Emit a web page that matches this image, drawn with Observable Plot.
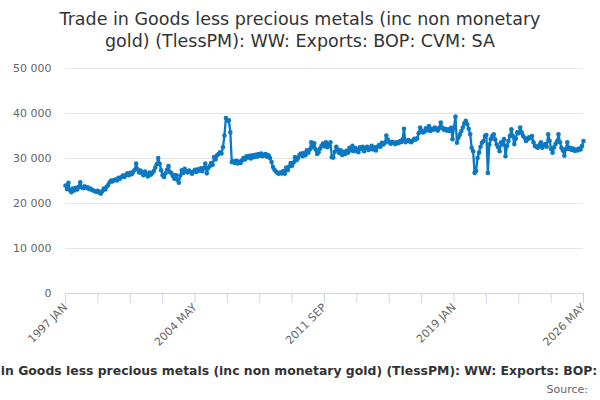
<!DOCTYPE html>
<html>
<head>
<meta charset="utf-8">
<script src="https://cdn.jsdelivr.net/npm/d3@7"></script>
<script src="https://cdn.jsdelivr.net/npm/@observablehq/plot@0.6"></script>
<style>
  html, body { margin: 0; padding: 0; background: #fff; }
  #wrap { width: 600px; height: 400px; overflow: hidden; font-family: "DejaVu Sans", sans-serif; }
  #title { box-sizing: border-box; height: 58px; padding-top: 8px; text-align: center; font-size: 17.5px; line-height: 22px; color: #333333; }
  #chart svg { display: block; }
  #caption { box-sizing: border-box; width: 600px; padding-left: 18px; overflow: hidden; display: flex; justify-content: center; white-space: nowrap; margin-top: 5px; font-size: 12.42px; line-height: 16px; font-weight: bold; color: #333333; }
  #caption span { flex: none; }
  #source { text-align: right; padding-right: 12px; margin-top: 4px; font-size: 11px; line-height: 14px; color: #666666; }
</style>
</head>
<body>
<div id="wrap">
  <div id="title">Trade in Goods less precious metals (inc non monetary<br>gold) (TlessPM): WW: Exports: BOP: CVM: SA</div>
  <div id="chart"></div>
  <div id="caption"><span>Trade in Goods less precious metals (inc non monetary gold) (TlessPM): WW: Exports: BOP: CVM: SA</span></div>
  <div id="source">Source:</div>
</div>
<script>
const MONTHS = ["JAN","FEB","MAR","APR","MAY","JUN","JUL","AUG","SEP","OCT","NOV","DEC"];
const years = [1997,1998,1999,2000,2001,2002,2003,2004,2005,2006,2007,2008,2009,2010,2011,2012,2013,2014,2015,2016,2017,2018,2019,2020,2021,2022,2023,2024,2025,2026];

const v1997 = [24000, 23200, 24600, 23000, 22500, 23300, 22900, 23500, 23100, 23700, 24700, 23600];
const v1998 = [23400, 23800, 23500, 23600, 23200, 23300, 23000, 22900, 22700, 22600, 22800, 22400];
const v1999 = [22200, 22700, 23300, 23100, 23700, 24100, 24700, 25100, 24900, 25200, 25300, 25100];
const v2000 = [25700, 25500, 25900, 26200, 25900, 26300, 26700, 26300, 26800, 26500, 27000, 27500];
const v2001 = [28900, 27600, 26900, 27300, 26700, 26300, 27100, 26500, 26000, 26900, 26400, 26800];
const v2002 = [27200, 28000, 28700, 30100, 28800, 27400, 26300, 25900, 26700, 27500, 28300, 27000];
const v2003 = [26700, 26100, 25500, 26300, 25300, 24600, 26200, 27400, 26800, 27700, 27100, 26900];
const v2004 = [27300, 27000, 26600, 27100, 27500, 27000, 27600, 27300, 27800, 27200, 27900, 28900];
const v2005 = [26700, 27900, 28300, 29000, 28600, 30300, 29800, 30700, 31000, 31400, 31100, 32500];
const v2006 = [35100, 39000, 38400, 38500, 35800, 29200, 29400, 29000, 29500, 28900, 29300, 29000];
const v2007 = [29600, 30100, 29800, 30500, 30200, 30600, 30000, 30700, 30300, 30800, 30400, 31000];
const v2008 = [30600, 31100, 30500, 30800, 31000, 30400, 30700, 30100, 29200, 28100, 27500, 27100];
const v2009 = [26800, 26600, 26900, 26700, 27200, 26600, 28000, 27400, 28200, 29000, 28400, 29100];
const v2010 = [30300, 29600, 30100, 30800, 31100, 30500, 31200, 30700, 31800, 31300, 32000, 33600];
const v2011 = [32500, 33400, 32000, 31000, 31400, 32200, 32800, 33300, 32700, 33600, 32500, 33000];
const v2012 = [33600, 30300, 30200, 31500, 32600, 32000, 31200, 31800, 30800, 31500, 31000, 31700];
const v2013 = [31300, 32400, 31800, 32800, 31600, 32300, 31900, 31400, 32500, 32100, 32600, 31600];
const v2014 = [32300, 32600, 31900, 32200, 32800, 32000, 32500, 31800, 32600, 33000, 32600, 33500];
const v2015 = [33100, 33500, 35100, 34200, 33600, 33300, 33700, 33500, 33200, 33600, 33400, 33800];
const v2016 = [33600, 34200, 36600, 33600, 33900, 34100, 33800, 33600, 34000, 34400, 34200, 34500];
const v2017 = [35600, 36900, 36200, 35800, 36000, 36700, 36300, 37200, 36100, 36600, 36400, 36900];
const v2018 = [36500, 36200, 36800, 38000, 36900, 36400, 36600, 36200, 36500, 36100, 36800, 34300];
const v2019 = [36900, 39300, 33500, 34600, 35300, 36100, 36900, 37800, 38400, 37600, 36600, 35400];
const v2020 = [32400, 31600, 26800, 27200, 30100, 31300, 32600, 33500, 33900, 35000, 35200, 26800];
const v2021 = [33100, 34300, 35000, 35400, 34200, 33100, 32500, 31600, 33600, 33100, 34300, 30500];
const v2022 = [32800, 33900, 35000, 36500, 35000, 33200, 34400, 35800, 35600, 36900, 35800, 35000];
const v2023 = [34600, 33900, 34300, 34700, 34500, 35000, 33600, 32800, 32600, 32400, 33000, 33600];
const v2024 = [32400, 32900, 33200, 32600, 35400, 33900, 32100, 31300, 32500, 33200, 33800, 35400];
const v2025 = [33600, 32400, 31800, 30600, 32100, 33600, 32100, 32400, 31900, 32200, 31700, 32000];
const v2026 = [31800, 32200, 32000, 32800, 33900];

const seriesByYear = [v1997,v1998,v1999,v2000,v2001,v2002,v2003,v2004,v2005,v2006,v2007,v2008,v2009,v2010,v2011,v2012,v2013,v2014,v2015,v2016,v2017,v2018,v2019,v2020,v2021,v2022,v2023,v2024,v2025,v2026];

const xTickLabels = ["1997 JAN", "2004 MAY", "2011 SEP", "2019 JAN", "2026 MAY"];
const yTicks = [0, 10000, 20000, 30000, 40000, 50000];

const data = [];
years.forEach((yr, k) => seriesByYear[k].forEach((v, mi) => data.push({period: `${yr} ${MONTHS[mi]}`, value: v})));
const periods = data.map(d => d.period);
const tickPeriods = periods.filter((p, i) => i % 22 === 0);

const lineColor = "#0b78c3";
const fmt = v => d3.format(",")(v).replace(/,/g, " ");

const chart = Plot.plot({
  width: 600,
  height: 300,
  marginTop: 10,
  marginBottom: 65,
  marginLeft: 65,
  marginRight: 17,
  style: {fontFamily: "DejaVu Sans", fontSize: "11px", color: "#666666", background: "white", overflow: "visible"},
  x: {type: "point", domain: periods, padding: 0},
  y: {domain: [0, 50000]},
  marks: [
    Plot.gridY(yTicks, {stroke: "#e6e6e6", strokeOpacity: 1}),
    Plot.axisY(yTicks, {tickSize: 0, tickPadding: 14, tickFormat: fmt, fill: "#666666", label: null}),
    Plot.ruleY([0], {stroke: "#ccd6eb"}),
    Plot.axisX(tickPeriods, {tickSize: 10, tickPadding: 2, tickRotate: -45, stroke: "#ccd6eb", strokeOpacity: 1, fill: "#666666",
      tickFormat: p => xTickLabels.includes(p) ? p : "", label: null}),
    Plot.line(data, {x: "period", y: "value", stroke: lineColor, strokeWidth: 2.3}),
    Plot.dot(data, {x: "period", y: "value", r: 2.3, fill: lineColor})
  ]
});
document.getElementById("chart").appendChild(chart);
</script>
</body>
</html>
